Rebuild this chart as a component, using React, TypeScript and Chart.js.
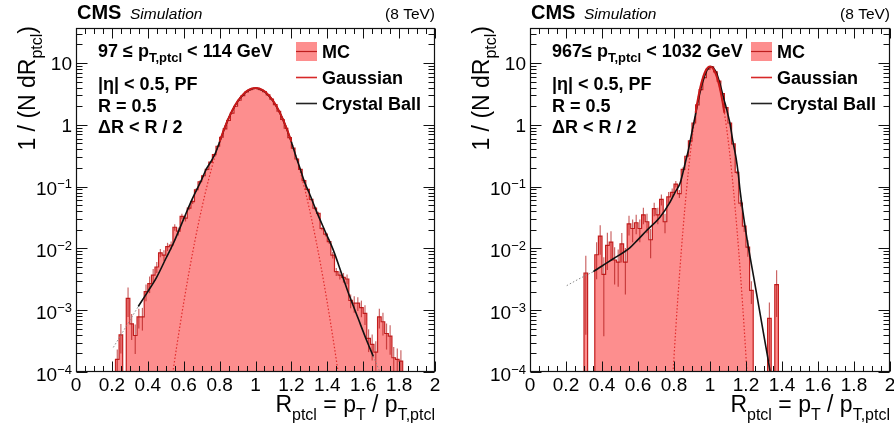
import React, { useEffect, useRef } from "react";
import { Chart, registerables } from "chart.js";

Chart.register(...registerables);

const FONT = "'Liberation Sans', Arial, Helvetica, sans-serif";
const PINK = "rgb(253,142,142)";
const FLOOR = 1e-9;

// ---------------- data ----------------
const binWidth = 0.02;

// left panel: 97 <= pT,ptcl < 114 GeV
const leftHistStart = 0.22;
const leftHistValues = [
  1.6e-4, 4.0e-4, 0, 1.55e-3, 6.0e-4, 3.9e-4, 7.8e-4, 7.8e-4, 2.0e-3, 2.7e-3,
  3.7e-3, 5.0e-3, 8.5e-3, 7.8e-3, 0.0107, 0.0113, 0.022, 0.019, 0.033, 0.031,
  0.045, 0.057, 0.089, 0.12, 0.15, 0.19, 0.25, 0.33, 0.45, 0.63,
  0.86, 1.18, 1.55, 2.0, 2.5, 2.98, 3.4, 3.7, 3.87, 3.88,
  3.72, 3.45, 3.05, 2.6, 2.12, 1.66, 1.22, 0.88, 0.62, 0.42,
  0.28, 0.19, 0.125, 0.09, 0.062, 0.045, 0.037, 0.021, 0.017, 0.0129,
  0.0078, 0.0042, 0.0037, 0.0034, 0.0032, 0.00144, 0.0013, 0.0013, 0.0011, 8.9e-4,
  3.5e-4, 2.8e-4, 2.1e-4, 7.8e-4, 6.5e-4, 4.2e-4, 3.8e-4, 1.7e-4, 1.6e-4, 1.5e-4,
];
const leftHistErrors = [
  0.45, 0.5, 0, 0.5, 0.45, 0.5, 0.35, 0.4, 0.3, 0.3,
  0.25, 0.2, 0.15, 0.2, 0.15, 0.15, 0.12, 0.15, 0.1, 0.12,
  0.08, 0.08, 0.06, 0.05, 0.04, 0.03, 0.03, 0.03, 0.02, 0.02,
  0.015, 0.015, 0.015, 0.015, 0.015, 0.015, 0.015, 0.015, 0.015, 0.015,
  0.015, 0.015, 0.015, 0.015, 0.015, 0.015, 0.015, 0.015, 0.015, 0.015,
  0.02, 0.02, 0.03, 0.03, 0.04, 0.05, 0.06, 0.06, 0.08, 0.08,
  0.12, 0.15, 0.15, 0.18, 0.18, 0.25, 0.3, 0.25, 0.3, 0.35,
  0.4, 0.45, 0.5, 0.35, 0.4, 0.45, 0.5, 0.5, 0.5, 0.5,
];
const leftGaussX = [
  0.52, 0.54, 0.56, 0.58, 0.6, 0.62, 0.64, 0.66, 0.68, 0.7, 0.72, 0.74, 0.76, 0.78, 0.8, 0.82, 0.84,
  0.86, 0.88, 0.9, 0.92, 0.94, 0.96, 0.98, 1.0, 1.02, 1.04, 1.06, 1.08, 1.1, 1.12, 1.14, 1.16,
  1.18, 1.2, 1.22, 1.24, 1.26, 1.28, 1.3, 1.32, 1.34, 1.36, 1.38, 1.4, 1.42, 1.44, 1.46, 1.48,
];
const leftGaussY = [
  3.9e-5, 1.0e-4, 2.47e-4, 5.8e-4, 1.32e-3, 2.88e-3, 6.05e-3, 0.0122, 0.0236, 0.0438, 0.0783, 0.134, 0.222, 0.352, 0.535, 0.78, 1.1,
  1.48, 1.93, 2.4, 2.86, 3.3, 3.64, 3.87, 3.95, 3.87, 3.64, 3.3, 2.86, 2.4, 1.93, 1.48, 1.1,
  0.78, 0.535, 0.352, 0.222, 0.134, 0.0783, 0.0438, 0.0236, 0.0122, 6.05e-3, 2.88e-3, 1.32e-3, 5.8e-4, 2.47e-4, 1.0e-4, 3.9e-5,
];
const leftGaussFitRange = [0.8, 1.2];
const leftCbX = [
  0.347, 0.4, 0.449, 0.5, 0.542, 0.6, 0.644, 0.7, 0.725, 0.75, 0.775, 0.8, 0.825, 0.85, 0.875, 0.9, 0.925, 0.95, 0.975, 1.0,
  1.025, 1.05, 1.075, 1.1, 1.125, 1.15, 1.175, 1.2, 1.225, 1.25, 1.275, 1.3, 1.341, 1.39, 1.434, 1.48, 1.526, 1.57, 1.62, 1.656,
];
const leftCbY = [
  1.15e-3, 2.0e-3, 3.4e-3, 6.8e-3, 0.012, 0.03, 0.06, 0.13, 0.19, 0.25, 0.34, 0.528, 0.843, 1.27, 1.79, 2.37, 2.94, 3.44, 3.78, 3.9,
  3.78, 3.44, 2.94, 2.37, 1.79, 1.27, 0.843, 0.528, 0.31, 0.19, 0.115, 0.078, 0.039, 0.0183, 0.0093, 3.9e-3, 1.63e-3, 7.6e-4, 3.2e-4, 1.8e-4,
];
const leftCbLowX = [0.208, 0.28, 0.347];
const leftCbLowY = [2.5e-4, 5.5e-4, 1.15e-3];
const leftCbHighX = [1.656, 1.7];
const leftCbHighY = [1.8e-4, 9e-5];

// right panel: 967 <= pT,ptcl < 1032 GeV
const rightHistStart = 0.3;
const rightHistValues = [
  4.0e-3, 0, 0, 7.9e-3, 0.0158, 3.8e-3, 0.0112, 0.0126, 6.5e-3, 6.0e-3,
  0.0118, 6.0e-3, 0.025, 0.021, 0.026, 0.021, 0.035, 0.027, 0.0138, 0.044,
  0.035, 0.062, 0.027, 0.068, 0.081, 0.11, 0.077, 0.19, 0.31, 0.55,
  1.07, 2.1, 3.7, 5.8, 8.0, 8.7, 7.2, 5.1, 3.2, 1.9,
  1.07, 0.49, 0.17, 0.054, 0.023, 0.0105, 2.1e-3, 0, 0, 0,
  0, 7.4e-4, 0, 2.6e-3,
];
const rightHistErrors = [
  0.9, 0, 0, 0.6, 0.5, 0.9, 0.6, 0.5, 0.6, 0.6,
  0.5, 0.7, 0.35, 0.4, 0.35, 0.4, 0.3, 0.35, 0.5, 0.25,
  0.3, 0.2, 0.35, 0.2, 0.15, 0.12, 0.15, 0.08, 0.05, 0.03,
  0.02, 0.015, 0.015, 0.015, 0.015, 0.015, 0.015, 0.015, 0.015, 0.02,
  0.02, 0.04, 0.06, 0.12, 0.2, 0.3, 0.4, 0, 0, 0,
  0, 0.8, 0, 0.7,
];
const rightGaussX = [
  0.79, 0.8, 0.81, 0.82, 0.83, 0.84, 0.85, 0.86, 0.87, 0.88, 0.89, 0.9, 0.91, 0.92, 0.93, 0.94, 0.95, 0.96, 0.97, 0.98, 0.99,
  1.0, 1.01, 1.02, 1.03, 1.04, 1.05, 1.06, 1.07, 1.08, 1.09, 1.1, 1.11, 1.12, 1.13, 1.14, 1.15, 1.16, 1.17, 1.18, 1.19, 1.2, 1.21,
];
const rightGaussY = [
  5.8e-5, 1.76e-4, 5.08e-4, 1.38e-3, 3.56e-3, 8.68e-3, 0.0201, 0.0439, 0.0912, 0.179, 0.334, 0.589, 0.985, 1.56, 2.34, 3.33, 4.48, 5.71, 6.9, 7.89, 8.57,
  8.8, 8.57, 7.89, 6.9, 5.71, 4.48, 3.33, 2.34, 1.56, 0.985, 0.589, 0.334, 0.179, 0.0912, 0.0439, 0.0201, 8.68e-3, 3.56e-3, 1.38e-3, 5.08e-4, 1.76e-4, 5.8e-5,
];
const rightGaussFitRange = [0.92, 1.08];
const rightCbX = [
  0.352, 0.4, 0.463, 0.556, 0.6, 0.648, 0.722, 0.778, 0.805, 0.833, 0.85, 0.865, 0.88, 0.898, 0.917, 0.935, 0.95, 0.963, 0.985,
  1.005, 1.02, 1.037, 1.05, 1.065, 1.077, 1.089, 1.1, 1.111, 1.126, 1.144, 1.157, 1.167, 1.2, 1.25, 1.3, 1.333, 1.345,
];
const rightCbY = [
  4.2e-3, 5.2e-3, 6.8e-3, 0.0103, 0.0139, 0.0195, 0.032, 0.056, 0.08, 0.112, 0.17, 0.26, 0.39, 0.72, 1.35, 2.51, 3.9, 5.3, 7.8,
  8.75, 8.2, 6.8, 5.2, 3.6, 2.6, 1.95, 1.45, 1.05, 0.565, 0.3, 0.162, 0.087, 0.018, 2.6e-3, 3.8e-4, 1.05e-4, 6e-5,
];
const rightCbLowX = [0.204, 0.28, 0.352];
const rightCbLowY = [2.5e-3, 3.3e-3, 4.2e-3];

// axes
const xMin = 0;
const xMax = 2;
const yMin = 1e-4;
const yMax = 36.9;
const xTickValues = [0, 0.2, 0.4, 0.6, 0.8, 1, 1.2, 1.4, 1.6, 1.8, 2];
const xTickLabels = ["0", "0.2", "0.4", "0.6", "0.8", "1", "1.2", "1.4", "1.6", "1.8", "2"];
const yTickValues = [1e-4, 1e-3, 1e-2, 1e-1, 1, 10];
const yTickLabels = ["10^{\u22124}", "10^{\u22123}", "10^{\u22122}", "10^{\u22121}", "1", "10"];

// texts
const headerExperiment = "CMS";
const headerStatus = "Simulation";
const headerEnergy = "(8 TeV)";
const yTitle = "1 / (N dR_{ptcl})";
const xTitle = "R_{ptcl} = p_{T} / p_{T,ptcl}";
const leftRangeLabel = "97 \u2264 p_{T,ptcl} < 114 GeV";
const rightRangeLabel = "967\u2264 p_{T,ptcl} < 1032 GeV";
const selectionLines = ["|\u03b7| < 0.5, PF", "R = 0.5", "\u0394R < R / 2"];
const legendLabels = ["MC", "Gaussian", "Crystal Ball"];

// ---------------- helpers ----------------
type Part = { t: string; size: number; dy: number; bold: boolean; italic: boolean };

function fontStr(size: number, bold = false, italic = false) {
  return `${italic ? "italic " : ""}${bold ? "bold " : ""}${size}px ${FONT}`;
}

function rich(s: string, size: number, small: number, subDy: number, supDy: number, bold = false, italic = false): Part[] {
  const parts: Part[] = [];
  let buf = "";
  let i = 0;
  while (i < s.length) {
    const c = s[i];
    if ((c === "_" || c === "^") && s[i + 1] === "{") {
      if (buf) parts.push({ t: buf, size, dy: 0, bold, italic });
      buf = "";
      const end = s.indexOf("}", i);
      parts.push({ t: s.slice(i + 2, end), size: small, dy: c === "_" ? subDy : supDy, bold, italic });
      i = end + 1;
    } else {
      buf += c;
      i++;
    }
  }
  if (buf) parts.push({ t: buf, size, dy: 0, bold, italic });
  return parts;
}

function drawParts(ctx: CanvasRenderingContext2D, parts: Part[], x: number, y: number, align: "left" | "right" | "center") {
  ctx.textAlign = "left";
  ctx.textBaseline = "alphabetic";
  let total = 0;
  const ws = parts.map((p) => {
    ctx.font = fontStr(p.size, p.bold, p.italic);
    const w = ctx.measureText(p.t).width;
    total += w;
    return w;
  });
  let cx = align === "right" ? x - total : align === "center" ? x - total / 2 : x;
  parts.forEach((p, i) => {
    ctx.font = fontStr(p.size, p.bold, p.italic);
    ctx.fillText(p.t, cx, y + p.dy);
    cx += ws[i];
  });
  return total;
}

function pts(xs: number[], ys: number[]) {
  return xs.map((x, i) => ({ x, y: ys[i] }));
}

function histPoints(start: number, values: number[]) {
  const out = [{ x: start - binWidth, y: FLOOR }];
  values.forEach((v, i) => out.push({ x: start + i * binWidth, y: v > 0 ? v : FLOOR }));
  out.push({ x: start + values.length * binWidth, y: FLOOR });
  return out;
}

type PanelCfg = {
  canvasLeft: number;
  canvasWidth: number;
  padLeft: number;
  padRight: number;
  histStart: number;
  histValues: number[];
  histErrors: number[];
  gaussX: number[];
  gaussY: number[];
  gaussFit: number[];
  cbX: number[];
  cbY: number[];
  cbLowX: number[];
  cbLowY: number[];
  cbHighX: number[];
  cbHighY: number[];
  rangeLabel: string;
};

const panels: PanelCfg[] = [
  {
    canvasLeft: 0, canvasWidth: 447, padLeft: 76, padRight: 12,
    histStart: leftHistStart, histValues: leftHistValues, histErrors: leftHistErrors,
    gaussX: leftGaussX, gaussY: leftGaussY, gaussFit: leftGaussFitRange,
    cbX: leftCbX, cbY: leftCbY, cbLowX: leftCbLowX, cbLowY: leftCbLowY, cbHighX: leftCbHighX, cbHighY: leftCbHighY,
    rangeLabel: leftRangeLabel,
  },
  {
    canvasLeft: 447, canvasWidth: 447, padLeft: 83, padRight: 4,
    histStart: rightHistStart, histValues: rightHistValues, histErrors: rightHistErrors,
    gaussX: rightGaussX, gaussY: rightGaussY, gaussFit: rightGaussFitRange,
    cbX: rightCbX, cbY: rightCbY, cbLowX: rightCbLowX, cbLowY: rightCbLowY, cbHighX: [], cbHighY: [],
    rangeLabel: rightRangeLabel,
  },
];

function makePlugin(cfg: PanelCfg) {
  return {
    id: "rootStyle",
    afterDatasetDraw(chart: any, args: any) {
      if (args.index !== 0) return;
      const ctx: CanvasRenderingContext2D = chart.ctx;
      const a = chart.chartArea;
      const xs = chart.scales.x;
      const ys = chart.scales.y;
      ctx.save();
      ctx.beginPath();
      ctx.rect(a.left, a.top, a.right - a.left, a.bottom - a.top);
      ctx.clip();
      ctx.strokeStyle = "rgba(175,20,20,0.65)";
      ctx.lineWidth = 1.2;
      cfg.histValues.forEach((v, i) => {
        const e = cfg.histErrors[i];
        if (!(v > 0) || !(e > 0)) return;
        const px = xs.getPixelForValue(cfg.histStart + (i + 0.5) * binWidth);
        const yTop = ys.getPixelForValue(v * (1 + e));
        const yBot = e >= 1 ? a.bottom : ys.getPixelForValue(v * (1 - e));
        ctx.beginPath();
        ctx.moveTo(px, yTop);
        ctx.lineTo(px, yBot);
        ctx.stroke();
      });
      ctx.restore();
    },
    afterDraw(chart: any) {
      const ctx: CanvasRenderingContext2D = chart.ctx;
      const a = chart.chartArea;
      const xs = chart.scales.x;
      const ys = chart.scales.y;
      ctx.save();
      // frame
      const L = Math.round(a.left) + 0.5;
      const R = Math.round(a.right) - 0.5;
      const T = Math.round(a.top) + 0.5;
      const B = Math.round(a.bottom) - 0.5;
      ctx.strokeStyle = "#111";
      ctx.lineWidth = 1.2;
      ctx.strokeRect(L, T, R - L, B - T);
      // ticks
      ctx.lineWidth = 1;
      ctx.strokeStyle = "#111";
      ctx.beginPath();
      for (let k = 0; k <= 40; k++) {
        const v = k * 0.05;
        const len = k % 4 === 0 ? 10 : 5.5;
        const px = Math.round(xs.getPixelForValue(v)) + 0.5;
        ctx.moveTo(px, B);
        ctx.lineTo(px, B - len);
        ctx.moveTo(px, T);
        ctx.lineTo(px, T + len);
      }
      for (let e = -4; e <= 1; e++) {
        for (let m = 1; m <= 9; m++) {
          const v = m * Math.pow(10, e);
          if (v > ys.max * 1.0001) continue;
          const len = m === 1 ? 11 : 6;
          const py = Math.round(ys.getPixelForValue(v)) + 0.5;
          ctx.moveTo(L, py);
          ctx.lineTo(L + len, py);
          ctx.moveTo(R, py);
          ctx.lineTo(R - len, py);
        }
      }
      ctx.stroke();

      ctx.fillStyle = "#000";
      // x tick labels
      xTickValues.forEach((v, i) => {
        const px = xs.getPixelForValue(v);
        drawParts(ctx, [{ t: xTickLabels[i], size: 19, dy: 0, bold: false, italic: false }], px, a.bottom + 19, "center");
      });
      // y tick labels
      yTickValues.forEach((v, i) => {
        const py = ys.getPixelForValue(v);
        const lab = yTickLabels[i];
        const hasExp = lab.indexOf("^") >= 0;
        const parts = rich(lab, 19, 13, 0, -7);
        drawParts(ctx, parts, a.left - 4, py + (hasExp ? 8.5 : 7), "right");
      });

      // header
      drawParts(ctx, [{ t: headerExperiment, size: 20, dy: 0, bold: true, italic: false }], a.left + 1, 19, "left");
      drawParts(ctx, [{ t: headerStatus, size: 15.5, dy: 0, bold: false, italic: true }], a.left + 54, 19, "left");
      drawParts(ctx, [{ t: headerEnergy, size: 15.5, dy: 0, bold: false, italic: false }], a.right, 19, "right");

      // annotation
      drawParts(ctx, rich(cfg.rangeLabel, 18, 13, 5, -7, true), a.left + 22, 57, "left");
      const rows = [90, 112, 133];
      selectionLines.forEach((s, i) => {
        drawParts(ctx, rich(s, 18, 13, 5, -7, true), a.left + 22, rows[i], "left");
      });

      // legend
      const bx = a.right - 139;
      const bw = 21;
      const centers = [51.5, 77.5, 103.5];
      ctx.fillStyle = PINK;
      ctx.fillRect(bx, centers[0] - 9.5, bw, 19);
      ctx.strokeStyle = "rgb(190,30,30)";
      ctx.lineWidth = 1.2;
      ctx.beginPath();
      ctx.moveTo(bx, centers[0]);
      ctx.lineTo(bx + bw, centers[0]);
      ctx.stroke();
      ctx.strokeStyle = "rgb(215,40,40)";
      ctx.lineWidth = 1.6;
      ctx.beginPath();
      ctx.moveTo(bx, centers[1]);
      ctx.lineTo(bx + bw, centers[1]);
      ctx.stroke();
      ctx.strokeStyle = "#222";
      ctx.beginPath();
      ctx.moveTo(bx, centers[2]);
      ctx.lineTo(bx + bw, centers[2]);
      ctx.stroke();
      ctx.fillStyle = "#000";
      legendLabels.forEach((s, i) => {
        drawParts(ctx, [{ t: s, size: 18, dy: 0, bold: true, italic: false }], bx + 26, centers[i] + 6.5, "left");
      });

      // x title
      drawParts(ctx, rich(xTitle, 23, 16, 8, -8), a.right, 412, "right");
      // y title (rotated)
      ctx.save();
      ctx.translate(a.left - 41, 26);
      ctx.rotate(-Math.PI / 2);
      drawParts(ctx, rich(yTitle, 23, 16, 7, -8), 0, 0, "right");
      ctx.restore();

      ctx.restore();
    },
  };
}

function Panel({ cfg }: { cfg: PanelCfg }) {
  const ref = useRef<HTMLCanvasElement>(null);
  useEffect(() => {
    if (!ref.current) return;
    const inFit = (p: { x: number }) => p.x >= cfg.gaussFit[0] - 1e-9 && p.x <= cfg.gaussFit[1] + 1e-9;
    const gaussAll = pts(cfg.gaussX, cfg.gaussY);
    const line = { pointRadius: 0, fill: false, cubicInterpolationMode: "monotone" as const };
    const chart = new Chart(ref.current, {
      type: "line",
      data: {
        datasets: [
          {
            label: "MC",
            data: histPoints(cfg.histStart, cfg.histValues),
            stepped: true,
            fill: "start",
            backgroundColor: PINK,
            borderColor: "rgb(195,30,30)",
            borderWidth: 1.2,
            pointRadius: 0,
            order: 6,
          } as any,
          { label: "Gaussian ext", data: gaussAll, borderColor: "rgb(225,45,45)", borderWidth: 1.2, borderDash: [1.5, 2], order: 5, ...line },
          { label: "CB ext low", data: pts(cfg.cbLowX, cfg.cbLowY), borderColor: "#888", borderWidth: 1, borderDash: [1.5, 2], order: 4, ...line },
          { label: "CB ext high", data: pts(cfg.cbHighX, cfg.cbHighY), borderColor: "#888", borderWidth: 1, borderDash: [1.5, 2], order: 4, ...line },
          { label: "Crystal Ball", data: pts(cfg.cbX, cfg.cbY), borderColor: "#111", borderWidth: 1.6, order: 3, ...line },
          { label: "Gaussian", data: gaussAll.filter(inFit), borderColor: "rgb(200,25,25)", borderWidth: 2, order: 2, ...line },
        ],
      },
      options: {
        responsive: false,
        maintainAspectRatio: false,
        animation: false,
        devicePixelRatio: 1,
        events: [],
        layout: { padding: { left: cfg.padLeft, right: cfg.padRight, top: 28, bottom: 55 } },
        scales: {
          x: { type: "linear", min: xMin, max: xMax, display: false },
          y: { type: "logarithmic", min: yMin, max: yMax, display: false },
        },
        plugins: { legend: { display: false }, tooltip: { enabled: false } },
      },
      plugins: [makePlugin(cfg)],
    });
    return () => chart.destroy();
  }, [cfg]);
  return (
    <canvas
      ref={ref}
      width={cfg.canvasWidth}
      height={427}
      style={{ position: "absolute", left: cfg.canvasLeft, top: 0, width: cfg.canvasWidth, height: 427 }}
    />
  );
}

export default function App() {
  return (
    <div style={{ position: "fixed", left: 0, top: 0, width: 894, height: 427, background: "#fff", overflow: "hidden" }}>
      {panels.map((p, i) => (
        <Panel key={i} cfg={p} />
      ))}
    </div>
  );
}
